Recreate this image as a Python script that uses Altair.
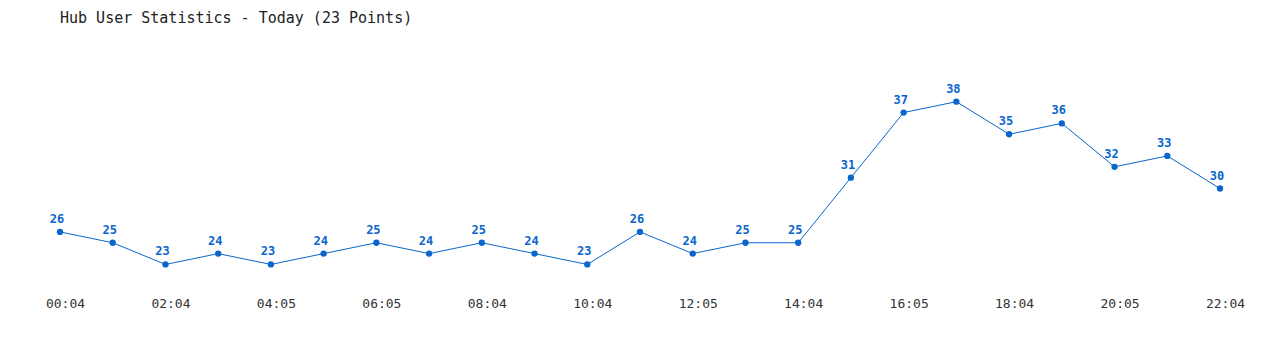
import altair as alt
import pandas as pd

users = [26, 25, 23, 24, 23, 24, 25, 24, 25, 24, 23, 26, 24, 25, 25, 31, 37, 38, 35, 36, 32, 33, 30]
tick_labels = ["00:04", "02:04", "04:05", "06:05", "08:04", "10:04",
               "12:05", "14:04", "16:05", "18:04", "20:05", "22:04"]

df = pd.DataFrame({"idx": list(range(len(users))), "users": users})

label_expr = "[" + ",".join('"%s"' % t for t in tick_labels) + "][datum.value / 2]"
blue = "#0a66cc"

x = alt.X("idx:Q", scale=alt.Scale(domain=[0, 22], nice=False, zero=False),
          axis=alt.Axis(values=list(range(0, 23, 2)), labelExpr=label_expr, title=None,
                        domain=False, ticks=False, grid=False, labelPadding=0,
                        labelFlush=False, labelOverlap=False, labelOffset=5,
                        labelFont="DejaVu Sans Mono", labelFontSize=13, labelColor="#333333"))
y = alt.Y("users:Q", scale=alt.Scale(domain=[20, 40], nice=False, zero=False), axis=None)

base = alt.Chart(df).encode(x=x, y=y)
line = base.mark_line(color=blue, strokeWidth=1)
pts = base.mark_circle(color=blue, size=40, opacity=1)
labels = base.mark_text(dy=-13, dx=-3, color=blue, font="DejaVu Sans Mono", fontWeight="bold",
                        fontSize=12).encode(text="users:Q")

chart = (line + pts + labels).properties(
    width=1160, height=217,
    title=alt.TitleParams("Hub User Statistics - Today (23 Points)", anchor="start",
                          frame="group",
                          font="DejaVu Sans Mono", fontSize=15, fontWeight="normal",
                          color="#222222", dy=-50),
    autosize=alt.AutoSizeParams(type="none"),
    padding={"left": 60, "top": 80, "right": 60, "bottom": 53},
).configure_view(stroke=None)

chart.save("out.html", embed_options={"renderer": "svg", "actions": False})
